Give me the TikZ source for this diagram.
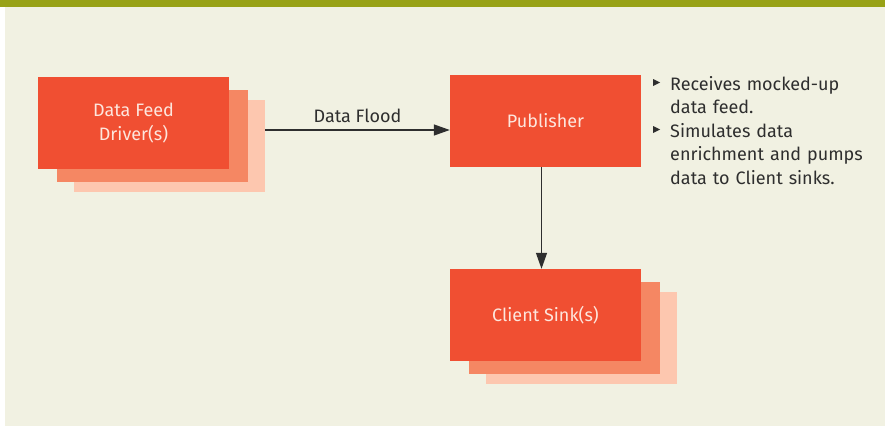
\documentclass[tikz,border=0pt]{standalone}
\usepackage{fontspec}
\setmainfont{Fira Sans}
\usetikzlibrary{arrows.meta,positioning}

\definecolor{barolive}{HTML}{98A216}
\definecolor{paper}{HTML}{F1F1E2}
\definecolor{boxfront}{HTML}{F04F32}
\definecolor{boxmid}{HTML}{F58763}
\definecolor{boxback}{HTML}{FDC7AF}
\definecolor{boxtext}{HTML}{FDE6DD}
\definecolor{ink}{HTML}{2E2E2E}

\begin{document}
\begin{tikzpicture}[x=1pt, y=-1pt,
    card/.style={minimum width=191pt, minimum height=92pt, inner sep=0pt},
    box/.style={card, fill=boxfront, text=boxtext, align=center,
                font=\fontsize{18}{24.5}\selectfont},
    midbox/.style={card, fill=boxmid},
    backbox/.style={card, fill=boxback},
    flow/.style={draw=ink, line width=1.3pt, -{Triangle[length=16pt,width=11pt]}},
    note/.style={text=ink, text width=205pt, align=left, anchor=base west, inner sep=0pt,
                 font=\fontsize{18}{23.5}\selectfont}]
                \useasboundingbox (0,0) rectangle (885,426);
                \fill[white] (0,0) rectangle (885,426);
                \fill[paper] (5,7) rectangle (885,426);
                \fill[barolive] (0,0) rectangle (885,7);

                % Stacked boxes (back copies first)
                \coordinate (drvpos) at (133.5,123);
                \coordinate (sinkpos) at (545.5,315);
                \node[backbox] (drvb) at ([shift={(36,23)}]drvpos) {};
                \node[midbox] (drvm) at ([shift={(19,13)}]drvpos) {};
                \node[box] (drv) at (drvpos) {Data Feed\\Driver(s)};

                \node[backbox] (sinkb) at ([shift={(36,23)}]sinkpos) {};
                \node[midbox] (sinkm) at ([shift={(19,13)}]sinkpos) {};
                \node[box] (sink) at (sinkpos) {Client Sink(s)};

                \node[box] (pub) at (545.5,121) {Publisher};

                % Connectors
                \coordinate (pubin) at ([yshift=-9pt]pub.west);
                \draw[flow] (drvb.east |- pubin) -- node[above=3pt, text=ink, font=\fontsize{18}{22}\selectfont] (floodlbl) {Data Flood} (pubin);
                \draw[flow] ([xshift=-4pt]pub.south) -- ([xshift=-4pt]sink.north);

                % Notes
                \node[note] (item1) at (670,90) {Receives mocked-up\\data feed.};
                \node[note] (item2) at ([yshift=-47pt]item1.base west) {Simulates data\\enrichment and pumps\\data to Client sinks.};
                \fill[ink] ([shift={(-17,-11)}]item1.base west) -- ++(7,3.5) -- ++(-7,3.5) -- cycle;
                \fill[ink] ([shift={(-17,-11)}]item2.base west) -- ++(7,3.5) -- ++(-7,3.5) -- cycle;
            \end{tikzpicture}
\end{document}
